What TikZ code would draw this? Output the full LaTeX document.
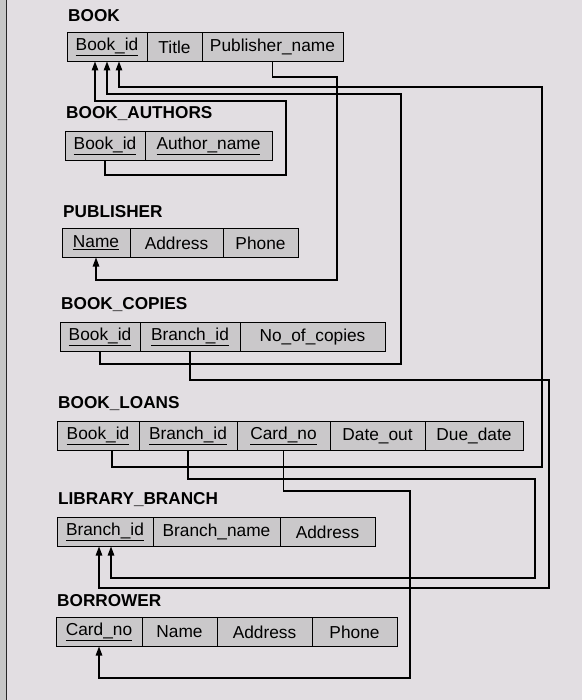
\documentclass[tikz,border=0pt]{standalone}
\usepackage{fontspec}
\setmainfont{Liberation Sans}
\usepackage{tikz}
\usetikzlibrary{arrows.meta,positioning}

\definecolor{screen}{RGB}{226,222,226}
\definecolor{cellgray}{RGB}{202,200,202}

\begin{document}
\begin{tikzpicture}[
    x=1pt, y=-1pt,
    cell/.style={rectangle, draw, fill=cellgray, line width=1pt, outer sep=0pt, inner sep=2pt,
        minimum height=29pt, anchor=west, font=\fontsize{17.3}{19}\selectfont},
    tname/.style={inner sep=0pt, font=\bfseries\fontsize{17.2}{19}\selectfont},
    fk/.style={-{Triangle[length=9pt,width=6.5pt]}, line width=1.2pt}
]
\useasboundingbox (0,0) rectangle (582,700);
\fill[screen] (0,0) rectangle (582,700);
\fill[gray!45] (0,0) rectangle (6,700);
\draw[line width=1pt, gray!30!black] (6,0) -- (6,700);

% BOOK
\node[cell, minimum width=80pt] (b1) at (67,47) {\underline{Book\_id}};
\node[cell, minimum width=55pt, right=0pt of b1] (b2) {Title};
\node[cell, minimum width=141pt, right=0pt of b2] (b3) {Publisher\_name};
\node[tname, above right=11pt and 1pt of b1.north west] {BOOK};

% BOOK_AUTHORS
\node[cell, minimum width=80pt] (ba1) at (65,146) {\underline{Book\_id}};
\node[cell, minimum width=127pt, right=0pt of ba1] (ba2) {\underline{Author\_name}};
\node[tname, above right=11pt and 1pt of ba1.north west] {BOOK\_AUTHORS};

% PUBLISHER
\node[cell, minimum width=68pt] (p1) at (62,243) {\underline{Name}};
\node[cell, minimum width=93pt, right=0pt of p1] (p2) {Address};
\node[cell, minimum width=75pt, right=0pt of p2] (p3) {Phone};
\node[tname, above right=11pt and 1pt of p1.north west] {PUBLISHER};

% BOOK_COPIES
\node[cell, minimum width=80pt] (bc1) at (60,337) {\underline{Book\_id}};
\node[cell, minimum width=100pt, right=0pt of bc1] (bc2) {\underline{Branch\_id}};
\node[cell, minimum width=145pt, right=0pt of bc2] (bc3) {No\_of\_copies};
\node[tname, above right=11pt and 1pt of bc1.north west] {BOOK\_COPIES};

% BOOK_LOANS
\node[cell, minimum width=82pt] (bl1) at (57,436) {\underline{Book\_id}};
\node[cell, minimum width=98pt, right=0pt of bl1] (bl2) {\underline{Branch\_id}};
\node[cell, minimum width=93pt, right=0pt of bl2] (bl3) {\underline{Card\_no}};
\node[cell, minimum width=95pt, right=0pt of bl3] (bl4) {Date\_out};
\node[cell, minimum width=98pt, right=0pt of bl4] (bl5) {Due\_date};
\node[tname, above right=11pt and 1pt of bl1.north west] {BOOK\_LOANS};

% LIBRARY_BRANCH
\node[cell, minimum width=96pt] (lb1) at (57,532) {\underline{Branch\_id}};
\node[cell, minimum width=127pt, right=0pt of lb1] (lb2) {Branch\_name};
\node[cell, minimum width=95pt, right=0pt of lb2] (lb3) {Address};
\node[tname, above right=11pt and 1pt of lb1.north west] {LIBRARY\_BRANCH};

% BORROWER
\node[cell, minimum width=86pt] (bo1) at (56,632) {\underline{Card\_no}};
\node[cell, minimum width=75pt, right=0pt of bo1] (bo2) {Name};
\node[cell, minimum width=95pt, right=0pt of bo2] (bo3) {Address};
\node[cell, minimum width=85pt, right=0pt of bo3] (bo4) {Phone};
\node[tname, above right=11pt and 1pt of bo1.north west] {BORROWER};

% Foreign keys
\draw[fk] (ba1.south) |- (286,175) -- (286,101) -| ([xshift=-12pt]b1.south);
\draw[fk] (bc1.south) |- (401,364) -- (401,94) -| (b1.south);
\draw[fk] ([xshift=14pt]bl1.south) |- (542,467) -- (542,87) -| ([xshift=12pt]b1.south);
\draw[fk] (b3.south) |- (337,77) -- (337,280) -| (p1.south);
\draw[fk] (bc2.south) |- (549,380) -- (549,588) -| ([xshift=-6pt]lb1.south);
\draw[fk] (bl2.south) |- (535,479) -- (535,578) -| ([xshift=6pt]lb1.south);
\draw[fk] (bl3.south) |- (410,491) -- (410,678) -| (bo1.south);

\end{tikzpicture}
\end{document}
